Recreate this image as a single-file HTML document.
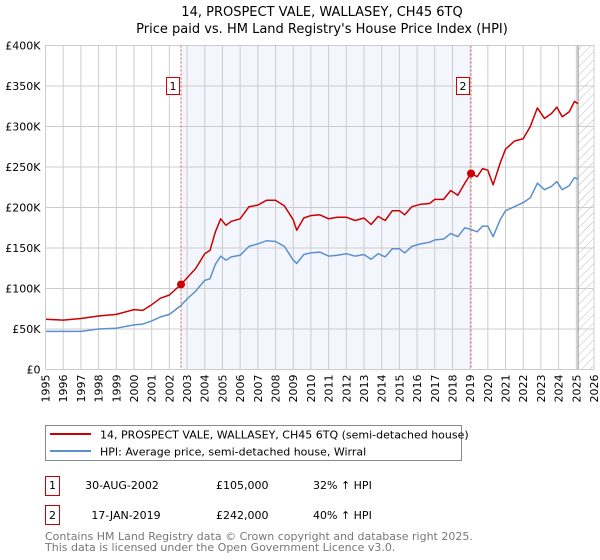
<!DOCTYPE html>
<html><head><meta charset="utf-8"><style>
body{margin:0;background:#fff;font-family:"Liberation Sans","DejaVu Sans",sans-serif;}
svg{display:block}
</style></head><body>
<svg width="600" height="560" xmlns="http://www.w3.org/2000/svg" font-family="DejaVu Sans, Liberation Sans, sans-serif">
<defs><pattern id="hatch" width="6" height="6" patternUnits="userSpaceOnUse" patternTransform="rotate(45)"><line x1="0" y1="0" x2="0" y2="6" stroke="#bbb" stroke-width="1"/></pattern></defs>
<text x="322" y="16" font-size="13" text-anchor="middle">14, PROSPECT VALE, WALLASEY, CH45 6TQ</text>
<text x="322" y="33" font-size="13" text-anchor="middle">Price paid vs. HM Land Registry's House Price Index (HPI)</text>
<g id="plot"></g>
<g>
<rect x="45.5" y="425.5" width="416" height="35" fill="#fff" stroke="#888"/>
<line x1="50" y1="434" x2="91" y2="434" stroke="#cc0000" stroke-width="2"/>
<text x="100" y="438.5" font-size="11">14, PROSPECT VALE, WALLASEY, CH45 6TQ (semi-detached house)</text>
<line x1="50" y1="451" x2="91" y2="451" stroke="#5b8fd0" stroke-width="2"/>
<text x="100" y="455.5" font-size="11">HPI: Average price, semi-detached house, Wirral</text>
</g>
<g font-size="11">
<rect x="45.5" y="476.5" width="14" height="19" fill="#fff" stroke="#cc0000"/>
<text x="52.5" y="489" text-anchor="middle">1</text>
<text x="122" y="489" text-anchor="middle">30-AUG-2002</text>
<text x="216" y="489">£105,000</text>
<text x="313" y="489">32% ↑ HPI</text>
<rect x="45.5" y="505.5" width="14" height="19" fill="#fff" stroke="#cc0000"/>
<text x="52.5" y="519" text-anchor="middle">2</text>
<text x="126" y="519" text-anchor="middle">17-JAN-2019</text>
<text x="216" y="519">£242,000</text>
<text x="313" y="519">40% ↑ HPI</text>
</g>
<text x="45" y="540" font-size="11" fill="#777">Contains HM Land Registry data © Crown copyright and database right 2025.</text>
<text x="45" y="551" font-size="11" fill="#777">This data is licensed under the Open Government Licence v3.0.</text>
</svg>
<script>
const yearsRed=[1995,1996,1997,1998,1999,2000,2000.5,2001,2001.5,2002,2002.66,2003,2003.5,2004,2004.3,2004.6,2004.9,2005.2,2005.5,2006,2006.5,2007,2007.5,2008,2008.5,2009,2009.2,2009.6,2010,2010.5,2011,2011.5,2012,2012.5,2013,2013.4,2013.8,2014.2,2014.6,2015,2015.3,2015.7,2016.2,2016.7,2017,2017.5,2017.9,2018.3,2018.7,2019.05,2019.4,2019.7,2020,2020.3,2020.7,2021,2021.5,2022,2022.4,2022.8,2023.2,2023.6,2023.9,2024.2,2024.6,2024.9,2025.1];
const redValues=[62,61,63,66,68,74,73,80,88,92,105,113,125,143,147,170,186,178,183,186,201,203,209,209,202,185,172,187,190,191,186,188,188,184,187,179,189,184,196,196,191,201,204,205,210,210,221,215,230,242,238,248,246,228,255,272,282,285,300,323,310,316,324,312,318,331,328];
const blueValues=[47,47,47,50,51,55,56,60,65,68,79,87,97,110,112,130,140,135,139,141,152,155,159,158,152,135,131,142,144,145,140,141,143,140,142,136,143,139,149,149,144,152,155,157,160,161,168,164,175,173,170,177,177,164,185,196,201,206,212,230,222,226,232,222,227,237,235];
const saleYears=[2002.66,2019.05];
const salePrices=[105,242];
const saleLabels=['1','2'];
const yTicks=[0,50,100,150,200,250,300,350,400];
const yTickLabels=['£0','£50K','£100K','£150K','£200K','£250K','£300K','£350K','£400K'];
const xTicks=[1995,1996,1997,1998,1999,2000,2001,2002,2003,2004,2005,2006,2007,2008,2009,2010,2011,2012,2013,2014,2015,2016,2017,2018,2019,2020,2021,2022,2023,2024,2025,2026];

const X0=45.5,X1=594,Y0=369.5,Y1=45.5;
const xs=y=>X0+(y-1995)/(2026-1995)*(X1-X0);
const ys=v=>Y0-(v/400)*(Y0-Y1);
const NS='http://www.w3.org/2000/svg';
const g=document.getElementById('plot');
function mk(t,a,p){const e=document.createElementNS(NS,t);for(const k in a)e.setAttribute(k,a[k]);(p||g).appendChild(e);return e;}
mk('rect',{x:X0,y:Y1,width:X1-X0,height:Y0-Y1,fill:'#fff'});
const sh=mk('rect',{x:xs(saleYears[0]),y:Y1,width:xs(saleYears[1])-xs(saleYears[0]),height:Y0-Y1,fill:'#f3f6fd'});


const ht=mk('rect',{x:xs(2025.1),y:Y1,width:X1-xs(2025.1),height:Y0-Y1,fill:'url(#hatch)'});


xTicks.forEach(t=>{
  mk('line',{x1:xs(t),x2:xs(t),y1:Y1,y2:Y0,stroke:'#ccc','stroke-width':1});
  const tx=mk('text',{x:0,y:0,'font-size':11,'text-anchor':'end',transform:`translate(${xs(t)+4},${Y0+5}) rotate(-90)`});
  tx.textContent=t;
  
  
});
yTicks.forEach((t,i)=>{
  mk('line',{x1:X0,x2:X1,y1:ys(t),y2:ys(t),stroke:'#ccc','stroke-width':1});
  const tx=mk('text',{x:X0-5,y:ys(t)+4,'font-size':11,'text-anchor':'end'});
  tx.textContent=yTickLabels[i];
  
  
});
mk('line',{x1:xs(2025.1),x2:xs(2025.1),y1:Y1,y2:Y0,stroke:'#888','stroke-width':1});
saleYears.forEach((s,i)=>{
  const l=mk('line',{x1:xs(s),x2:xs(s),y1:Y1,y2:Y0,stroke:'#e05555','stroke-width':1,'stroke-dasharray':'2,2'});
  
  
});
function line(vals,color,name){
  const d=vals.map((v,i)=>(i?'L':'M')+xs(yearsRed[i]).toFixed(1)+','+ys(v).toFixed(1)).join('');
  const p=mk('path',{d:d,fill:'none',stroke:color,'stroke-width':1.5,'stroke-linejoin':'round'});
  
  
}
line(blueValues,'#5b8fd0','hpi-line');
line(redValues,'#cc0000','property-price-line');
saleYears.forEach((s,i)=>{
  const c=mk('circle',{cx:xs(s),cy:ys(salePrices[i]),r:4,fill:'#cc0000'});
  
  
  const b=mk('rect',{x:xs(s)-14.5,y:77.5,width:13,height:17,fill:'#fff',stroke:'#cc0000'});
  
  
  const t=mk('text',{x:xs(s)-8,y:90,'font-size':11,'text-anchor':'middle'});
  t.textContent=saleLabels[i];
  
  
});
mk('rect',{x:X0,y:Y1,width:X1-X0,height:Y0-Y1,fill:'none',stroke:'#ccc'});
</script>
</body></html>
